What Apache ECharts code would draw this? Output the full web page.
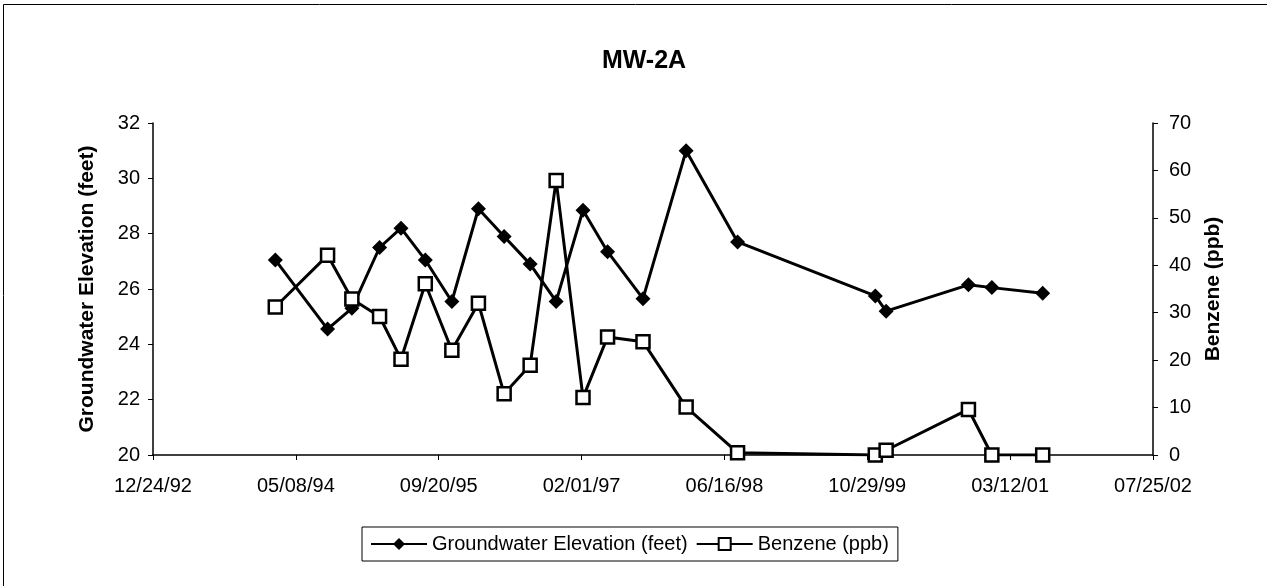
<!DOCTYPE html>
<html>
<head>
<meta charset="utf-8">
<script src="https://cdn.jsdelivr.net/npm/echarts@6/dist/echarts.min.js"></script>
<style>
html,body{margin:0;padding:0;background:#fff;}
#chart{width:1267px;height:586px;}
</style>
</head>
<body>
<div id="chart"></div>
<script>
// ---- data ----
const sampleDates = ['1994-02-25','1994-08-27','1994-11-20','1995-02-25','1995-05-11','1995-08-04','1995-11-05','1996-02-06','1996-05-06','1996-08-05','1996-11-04','1997-02-06','1997-05-03','1997-09-04','1998-02-02','1998-08-01','1999-11-26','2000-01-03','2000-10-17','2001-01-07','2001-07-04'];
const groundwaterElevation = [27.05,24.55,25.3,27.5,28.2,27.05,25.55,28.9,27.9,26.9,25.55,28.85,27.35,25.65,31.0,27.7,25.75,25.2,26.15,26.05,25.85];
const benzene = [31.2,42.1,32.9,29.2,20.2,36.1,22.1,32.0,12.9,18.9,57.9,12.1,24.9,23.9,10.1,0.5,0,1,9.6,0,0];
const axisStartDate = '1992-12-24';
const axisEndDate = '2002-07-25';
const xTickDays = 500;
const leftTicks = {min:20, max:32, interval:2};
const rightTicks = {min:0, max:70, interval:10};
const titleText = 'MW-2A';
const leftName = 'Groundwater Elevation (feet)';
const rightName = 'Benzene (ppb)';

// ---- helpers ----
const DAY = 86400000;
const base = Date.parse(axisStartDate + 'T00:00:00Z');
const toDays = s => Math.round((Date.parse(s + 'T00:00:00Z') - base) / DAY);
const pad = n => (n < 10 ? '0' : '') + n;
const fmt = v => {
  const d = new Date(base + Math.round(v) * DAY);
  return pad(d.getUTCMonth() + 1) + '/' + pad(d.getUTCDate()) + '/' + pad(d.getUTCFullYear() % 100);
};
const xs = sampleDates.map(toDays);
const gwData = xs.map((x, i) => [x, groundwaterElevation[i]]);
const bzData = xs.map((x, i) => [x, benzene[i]]);

const FONT = '"Liberation Sans", Arial, sans-serif';
const chart = echarts.init(document.getElementById('chart'), null, {renderer: 'canvas'});
chart.setOption({
  backgroundColor: '#fff',
  animation: false,
  textStyle: {fontFamily: FONT, color: '#000'},
  title: {
    text: titleText, left: 639, top: 44, textAlign: 'center',
    textStyle: {fontFamily: FONT, fontSize: 25, fontWeight: 'bold', color: '#000'}
  },
  graphic: [{
    type: 'rect', left: 1, top: 2, z: -1,
    shape: {width: 1264, height: 582},
    style: {fill: 'none', stroke: '#000', lineWidth: 1}
  }],
  legend: {
    left: 362, top: 527,
    orient: 'horizontal',
    backgroundColor: '#fff',
    borderColor: '#000', borderWidth: 1, borderRadius: 0,
    padding: [7, 9, 7, 8],
    itemGap: 8, itemWidth: 56, itemHeight: 15,
    textStyle: {fontFamily: FONT, fontSize: 20, color: '#000'},
    data: [leftName, rightName]
  },
  grid: {left: 153, right: 114, top: 123, bottom: 131, containLabel: false},
  xAxis: {
    type: 'value',
    min: toDays(axisStartDate), max: toDays(axisEndDate), interval: xTickDays,
    splitLine: {show: false},
    axisLine: {lineStyle: {color: '#000', width: 1.5}},
    axisTick: {show: true, length: 5, lineStyle: {color: '#000'}},
    axisLabel: {formatter: fmt, fontSize: 20, color: '#000', margin: 21, fontFamily: FONT}
  },
  yAxis: [{
    type: 'value', position: 'left',
    min: leftTicks.min, max: leftTicks.max, interval: leftTicks.interval,
    name: leftName, nameLocation: 'middle', nameGap: 55, nameRotate: 90,
    nameTextStyle: {fontFamily: FONT, fontSize: 21, fontWeight: 'bold', color: '#000'},
    splitLine: {show: false},
    axisLine: {show: true, lineStyle: {color: '#000', width: 1.5}},
    axisTick: {show: true, length: 5, lineStyle: {color: '#000'}},
    axisLabel: {fontSize: 20, color: '#000', margin: 13, fontFamily: FONT}
  }, {
    type: 'value', position: 'right',
    min: rightTicks.min, max: rightTicks.max, interval: rightTicks.interval,
    name: rightName, nameLocation: 'middle', nameGap: 50, nameRotate: 90,
    nameTextStyle: {fontFamily: FONT, fontSize: 21, fontWeight: 'bold', color: '#000'},
    splitLine: {show: false},
    axisLine: {show: true, lineStyle: {color: '#000', width: 1.5}},
    axisTick: {show: true, length: 5, lineStyle: {color: '#000'}},
    axisLabel: {fontSize: 20, color: '#000', margin: 16, fontFamily: FONT}
  }],
  series: [{
    name: leftName, type: 'line', yAxisIndex: 0,
    data: gwData,
    symbol: 'diamond', symbolSize: 15,
    itemStyle: {color: '#000'},
    lineStyle: {color: '#000', width: 3}
  }, {
    name: rightName, type: 'line', yAxisIndex: 1,
    data: bzData,
    symbol: 'rect', symbolSize: 13,
    itemStyle: {color: '#fff', borderColor: '#000', borderWidth: 2.5},
    lineStyle: {color: '#000', width: 3}
  }]
});
</script>
</body>
</html>
